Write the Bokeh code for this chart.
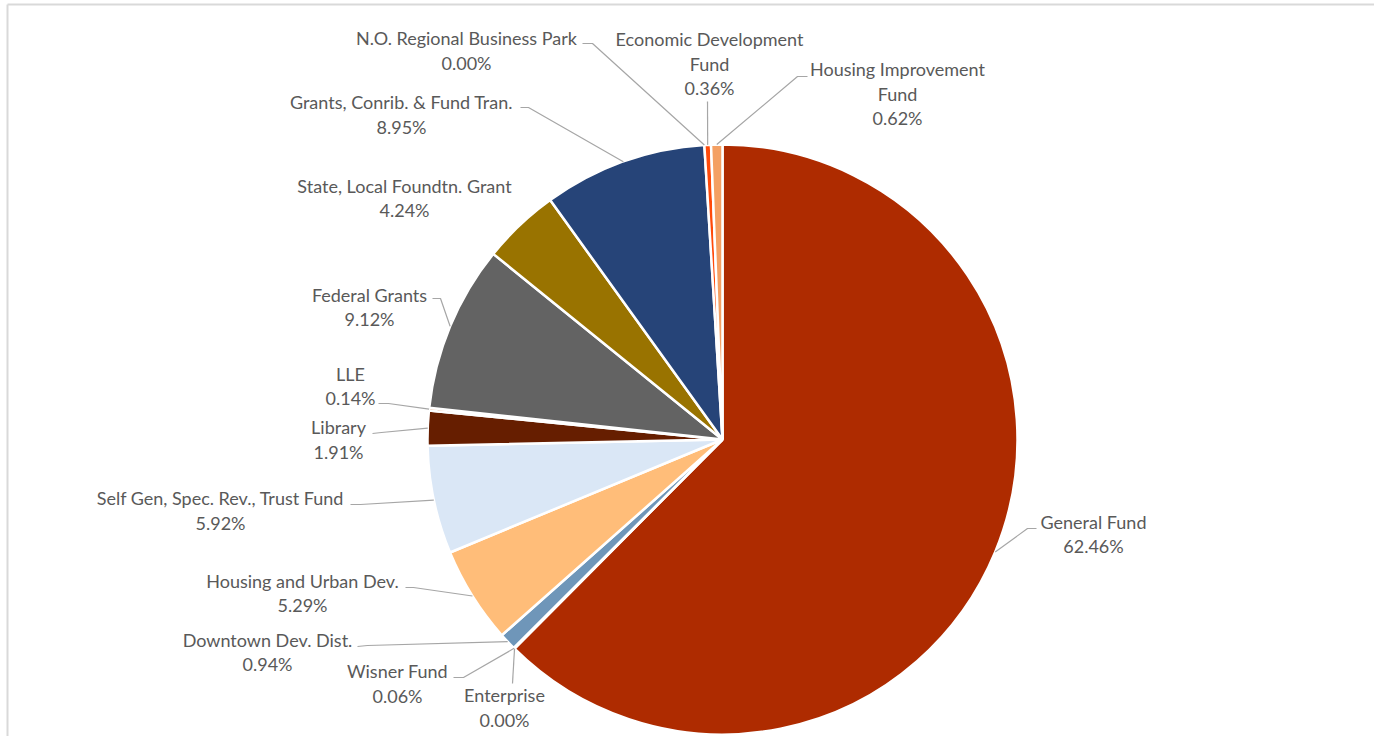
import math
from bokeh.plotting import figure
from bokeh.models import ColumnDataSource, Range1d
from bokeh.embed import file_html
from bokeh.resources import INLINE
from bokeh.core.properties import value

# ---------------- data ----------------
categories = [
    "General Fund", "Enterprise", "Wisner Fund", "Downtown Dev. Dist.",
    "Housing and Urban Dev.", "Self Gen, Spec. Rev., Trust Fund", "Library",
    "LLE", "Federal Grants", "State, Local Foundtn. Grant",
    "Grants, Conrib. & Fund Tran.", "N.O. Regional Business Park",
    "Economic Development Fund", "Housing Improvement Fund",
]
label_lines = [
    ["General Fund"], ["Enterprise"], ["Wisner Fund"], ["Downtown Dev. Dist."],
    ["Housing and Urban Dev."], ["Self Gen, Spec. Rev., Trust Fund"], ["Library"],
    ["LLE"], ["Federal Grants"], ["State, Local Foundtn. Grant"],
    ["Grants, Conrib. & Fund Tran."], ["N.O. Regional Business Park"],
    ["Economic Development", "Fund"], ["Housing Improvement", "Fund"],
]
shares = [62.46, 0.00, 0.06, 0.94, 5.29, 5.92, 1.91, 0.14, 9.12, 4.24, 8.95, 0.00, 0.36, 0.62]
colors = [
    "#AE2B00", "#7F7F7F", "#2F5597", "#6F96B9", "#FFBD79", "#DAE7F6", "#661E00",
    "#C55A11", "#636363", "#997300", "#264478", "#A5A5A5", "#FF4A0A", "#F4A063",
]

# ---------------- layout (picture pixel coordinates) ----------------
W, H = 1374, 736
CX, CY, R = 722, 439, 295

label_pos = [
    (1093, 533.5), (504, 707), (397, 683), (267, 651.5), (302, 592.5),
    (220, 510), (338, 439), (350, 385.5), (369, 306.5), (404, 197.5),
    (401, 114), (466, 50), (709, 63), (897, 93),
]
leaders = [
    ((1027, 528), (1036, 528)),
    ((512, 683), (512, 683)),
    ((463, 677), (453, 677)),
    ((367, 645), (357, 646)),
    ((413, 587), (405, 587)),
    ((360, 504), (350, 504)),
    ((381, 432), (372, 433)),
    ((388, 403), (378, 403)),
    ((440, 298), (432, 298)),
    None,
    ((528, 107), (520, 107)),
    ((592, 43), (582, 43)),
    ((707, 101), (707, 101)),
    ((797, 76), (807, 76)),
]

def Y(py):
    return H - py

total = sum(shares)
starts, ends, mids = [], [], []
cum = 0.0
for s in shares:
    a0 = cum / total * 360.0
    cum += s
    a1 = cum / total * 360.0
    starts.append(math.radians(90 - a0))
    ends.append(math.radians(90 - a1))
    mids.append(math.radians(90 - (a0 + a1) / 2))

p = figure(width=W, height=H, output_backend="svg", toolbar_location=None,
           x_range=Range1d(0, W), y_range=Range1d(0, H),
           min_border=0, min_border_left=0, min_border_right=0,
           min_border_top=0, min_border_bottom=0)
p.axis.visible = False
p.grid.visible = False
p.outline_line_color = None
p.background_fill_color = "white"
p.border_fill_color = "white"

# chart-area border (left and top visible in reference)
p.segment(x0=[7, 7], y0=[0, Y(4)], x1=[7, W], y1=[Y(4), Y(4)],
          line_color="#D9D9D9", line_width=2)

# only non-zero slices are drawn (a zero-angle wedge would render as a full disc)
idx = [i for i, s in enumerate(shares) if s > 0]
src = ColumnDataSource(dict(start=[starts[i] for i in idx], end=[ends[i] for i in idx],
                            color=[colors[i] for i in idx], cat=[categories[i] for i in idx],
                            share=[shares[i] for i in idx]))
p.wedge(x=CX, y=Y(CY), radius=R, start_angle="start", end_angle="end",
        direction="clock", fill_color="color", line_color="white", line_width=2.5,
        source=src)

# leader lines
xs, ys = [], []
for i, ld in enumerate(leaders):
    if ld is None:
        continue
    ex = CX + R * math.cos(mids[i])
    ey = Y(CY) + R * math.sin(mids[i])
    (bx, by), (tx, ty) = ld
    xs.append([ex, bx, tx])
    ys.append([ey, Y(by), Y(ty)])
p.multi_line(xs=xs, ys=ys, line_color="#A6A6A6", line_width=1.2)

# labels
tx_, ty_, tt_ = [], [], []
LS = 24.5
for i, lines in enumerate(label_lines):
    allines = lines + ["%.2f%%" % shares[i]]
    n = len(allines)
    cx, cy = label_pos[i]
    for k, t in enumerate(allines):
        tx_.append(cx)
        ty_.append(Y(cy + (k - (n - 1) / 2) * LS))
        tt_.append(t)
p.text(x=tx_, y=ty_, text=tt_, text_align="center", text_baseline="middle",
       text_font=value("Lato"), text_font_size="18px", text_color="#595959")

open("out.html", "w").write(file_html(p, INLINE))
